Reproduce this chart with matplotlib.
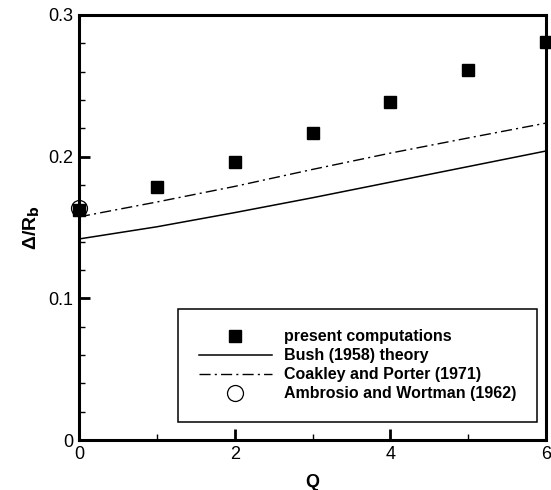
import matplotlib
matplotlib.use("Agg")
import matplotlib.pyplot as plt
from matplotlib.ticker import MultipleLocator, FuncFormatter

plt.rcParams['font.family'] = ['Liberation Sans', 'DejaVu Sans']

q_present = [0, 1, 2, 3, 4, 5, 6]
dr_present = [0.162, 0.1786, 0.196, 0.2167, 0.2386, 0.261, 0.281]

q_theory = [0, 1, 2, 3, 4, 5, 6]
dr_bush = [0.1419, 0.1505, 0.1605, 0.1710, 0.1820, 0.1930, 0.2040]
dr_coakley = [0.1575, 0.1680, 0.1790, 0.1910, 0.2025, 0.2132, 0.2237]

q_ambrosio = [0]
dr_ambrosio = [0.1638]

fig = plt.figure(figsize=(5.51, 4.90), dpi=100)
ax = fig.add_axes([79/551, 1-440/490, 467/551, 425/490])

ax.plot(q_present, dr_present, linestyle='none', marker='s', markersize=8,
        color='black', label='present computations', clip_on=False, zorder=4)
ax.plot(q_theory, dr_bush, color='black', linewidth=1.1, label='Bush (1958) theory')
ax.plot(q_theory, dr_coakley, color='black', linewidth=1.0,
        linestyle=(0, (8, 3, 1.5, 3)), label='Coakley and Porter (1971)')
ax.plot(q_ambrosio, dr_ambrosio, linestyle='none', marker='o', markersize=11.5,
        markerfacecolor='none', markeredgecolor='black', markeredgewidth=0.9,
        label='Ambrosio and Wortman (1962)', clip_on=False, zorder=5)

ax.set_xlim(0, 6)
ax.set_ylim(0, 0.3)
ax.xaxis.set_major_locator(MultipleLocator(2))
ax.xaxis.set_minor_locator(MultipleLocator(1))
ax.yaxis.set_major_locator(MultipleLocator(0.1))
ax.yaxis.set_minor_locator(MultipleLocator(0.02))
ax.xaxis.set_major_formatter(FuncFormatter(lambda v, p: f'{v:g}'))
ax.yaxis.set_major_formatter(FuncFormatter(lambda v, p: f'{v:g}'))

for s in ax.spines.values():
    s.set_linewidth(2.2)
ax.tick_params(which='major', direction='in', length=8, width=2, labelsize=13,
               top=False, right=False)
ax.tick_params(axis='x', which='major', pad=4)
ax.tick_params(axis='y', which='major', pad=4)
ax.tick_params(which='minor', direction='in', length=4.5, width=1,
               top=False, right=False)

ax.set_xlabel('Q', fontsize=13, fontweight='bold', labelpad=8)
ax.set_ylabel(r'Δ/R$_\mathbf{b}$', fontsize=14, fontweight='bold', labelpad=5)

leg = ax.legend(loc='lower right', bbox_to_anchor=(0.981, 0.042), borderaxespad=0,
                prop={'weight': 'bold', 'size': 11.5}, frameon=True, fancybox=False,
                edgecolor='black', handlelength=4.6, handletextpad=0.75,
                labelspacing=0.25, borderpad=1.3)
leg.get_frame().set_linewidth(1.1)
leg.get_frame().set_alpha(1)

fig.savefig('out.png', dpi=100)
